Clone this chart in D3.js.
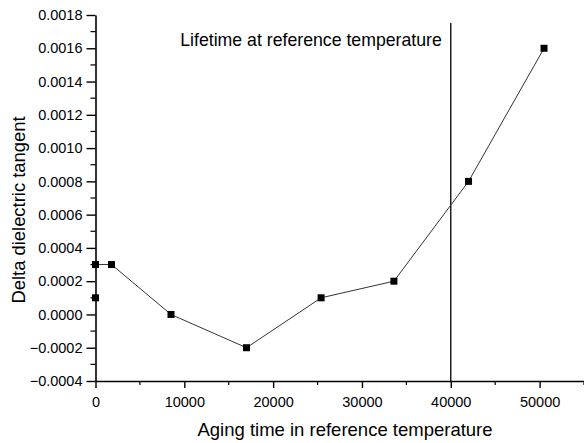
<!DOCTYPE html>
<html>
<head>
<meta charset="utf-8">
<script src="https://cdn.jsdelivr.net/npm/d3@7"></script>
<style>
  body { margin: 0; background: #fff; }
  text { font-family: "Liberation Sans", Arial, sans-serif; }
</style>
</head>
<body>
<div id="viz"></div>
<script>
const agingTime = [0, 0, 1800, 8500, 17000, 25400, 33600, 42000, 50500]
const deltaTangent = [0.0001, 0.0003, 0.0003, 0.0000, -0.0002, 0.0001, 0.0002, 0.0008, 0.0016]
const xTicks = [0, 10000, 20000, 30000, 40000, 50000]
const yTicks = [-0.0004, -0.0002, 0, 0.0002, 0.0004, 0.0006, 0.0008, 0.0010, 0.0012, 0.0014, 0.0016, 0.0018]
const lifetime = 40000

const width = 584
const height = 443

const svg = d3.select("#viz").append("svg")
  .attr("width", width)
  .attr("height", height)

const x = d3.scaleLinear().domain([0, 55000]).range([95.5, 584])
const y = d3.scaleLinear().domain([-0.0004, 0.0018]).range([381, 15])

// x axis
const xAxis = svg.append("g")
  .attr("transform", `translate(0,${y(-0.0004)})`)
  .call(d3.axisBottom(x).tickValues(xTicks).tickFormat(d3.format("d")).tickSize(7).tickSizeOuter(0))
xAxis.select(".domain").attr("stroke-width", 1.6)
xAxis.selectAll(".tick line").attr("stroke-width", 1.4)
xAxis.selectAll(".tick text").attr("font-size", 14.5).attr("y", 26).attr("dy", 0)
xAxis.selectAll(".minor")
  .data(d3.range(5000, 56000, 10000))
  .enter().append("line")
  .attr("x1", d => x(d)).attr("x2", d => x(d))
  .attr("y1", 0).attr("y2", 4)
  .attr("stroke", "#000").attr("stroke-width", 1.2)

// y axis
const yAxis = svg.append("g")
  .attr("transform", `translate(${x(0)},0)`)
  .call(d3.axisLeft(y).tickValues(yTicks).tickFormat(d3.format(".4f")).tickSize(9).tickSizeOuter(0))
yAxis.select(".domain").attr("stroke-width", 1.6)
yAxis.selectAll(".tick line").attr("stroke-width", 1.4)
yAxis.selectAll(".tick text").attr("font-size", 14.5).attr("x", -13)
yAxis.selectAll(".minor")
  .data(d3.range(-0.0003, 0.0018, 0.0002))
  .enter().append("line")
  .attr("x1", -5).attr("x2", 0)
  .attr("y1", d => y(d)).attr("y2", d => y(d))
  .attr("stroke", "#000").attr("stroke-width", 1.2)

// lifetime marker
svg.append("line")
  .attr("x1", x(lifetime)).attr("x2", x(lifetime))
  .attr("y1", 23).attr("y2", y(-0.0004))
  .attr("stroke", "#000").attr("stroke-width", 1.3)

svg.append("text")
  .attr("x", x(lifetime) - 9)
  .attr("y", 46)
  .attr("text-anchor", "end")
  .attr("font-size", 17.7)
  .text("Lifetime at reference temperature")

// data line
const pts = agingTime.map((t, i) => [t, deltaTangent[i]])
const line = d3.line().x(d => x(d[0])).y(d => y(d[1]))

svg.append("path")
  .datum(pts)
  .attr("d", line)
  .attr("fill", "none")
  .attr("stroke", "#333")
  .attr("stroke-width", 1)

svg.selectAll(".pt")
  .data(pts)
  .enter().append("rect")
  .attr("x", d => x(d[0]) - 3.5)
  .attr("y", d => y(d[1]) - 3.5)
  .attr("width", 7)
  .attr("height", 7)
  .attr("fill", "#000")

// axis titles
svg.append("text")
  .attr("x", 345)
  .attr("y", 436)
  .attr("text-anchor", "middle")
  .attr("font-size", 18.5)
  .text("Aging time in reference temperature")

svg.append("text")
  .attr("transform", "translate(25,210) rotate(-90)")
  .attr("text-anchor", "middle")
  .attr("font-size", 18.4)
  .text("Delta dielectric tangent")
</script>
</body>
</html>
